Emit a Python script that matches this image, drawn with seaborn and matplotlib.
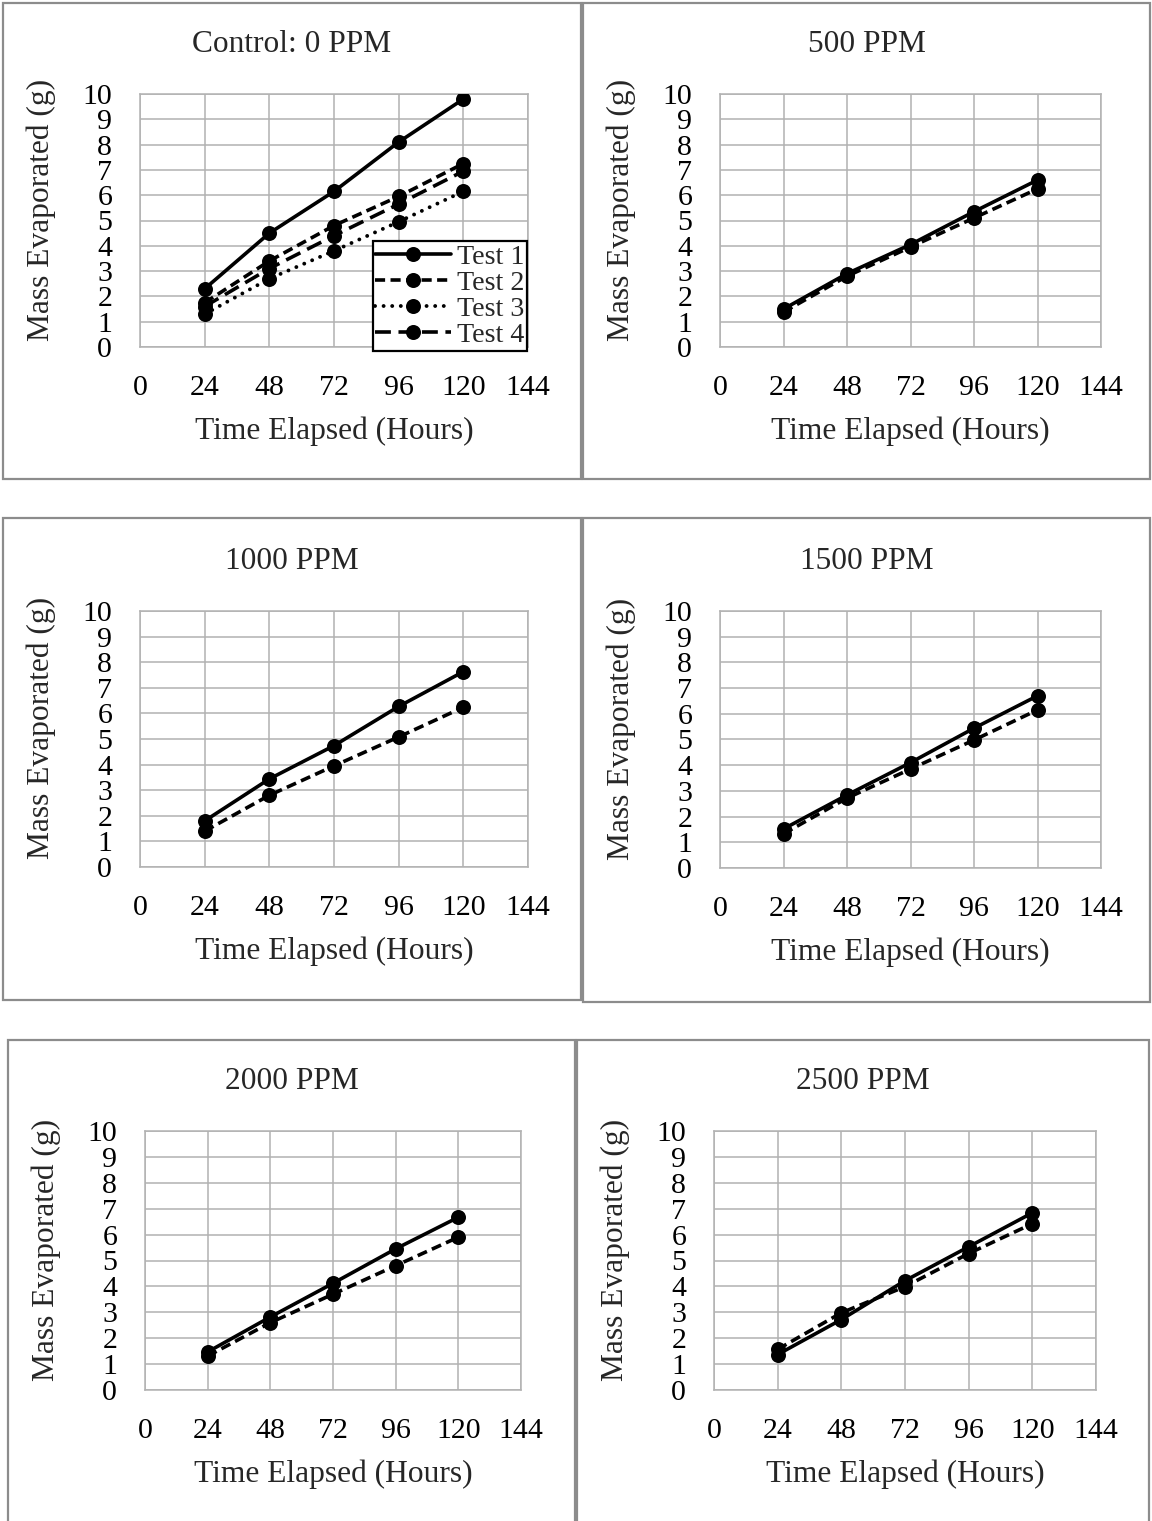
import matplotlib
matplotlib.use("Agg")
import matplotlib.pyplot as plt
from matplotlib.patches import Rectangle
import numpy as np
import pandas as pd
import seaborn as sns

# ---------------- data ----------------
hours = [24, 48, 72, 96, 120]
test_names = ["Test 1", "Test 2", "Test 3", "Test 4"]
panel_titles = ["Control: 0 PPM", "500 PPM", "1000 PPM", "1500 PPM", "2000 PPM", "2500 PPM"]
x_ticks = [0, 24, 48, 72, 96, 120, 144]
y_ticks = [0, 1, 2, 3, 4, 5, 6, 7, 8, 9, 10]
x_label = "Time Elapsed (Hours)"
y_label = "Mass Evaporated (g)"

control_test1 = [2.3, 4.5, 6.15, 8.1, 9.8]
control_test2 = [1.75, 3.4, 4.8, 5.95, 7.25]
control_test3 = [1.3, 2.7, 3.8, 4.95, 6.15]
control_test4 = [1.6, 3.1, 4.4, 5.65, 6.95]

ppm500_test1 = [1.5, 2.9, 4.05, 5.35, 6.6]
ppm500_test2 = [1.38, 2.8, 3.95, 5.1, 6.25]

ppm1000_test1 = [1.8, 3.44, 4.74, 6.27, 7.63]
ppm1000_test2 = [1.4, 2.8, 3.95, 5.08, 6.24]

ppm1500_test1 = [1.52, 2.84, 4.1, 5.44, 6.7]
ppm1500_test2 = [1.33, 2.72, 3.85, 4.98, 6.15]

ppm2000_test1 = [1.47, 2.82, 4.12, 5.45, 6.67]
ppm2000_test2 = [1.31, 2.6, 3.7, 4.8, 5.9]

ppm2500_test1 = [1.37, 2.72, 4.22, 5.53, 6.84]
ppm2500_test2 = [1.57, 2.98, 3.99, 5.27, 6.42]

panel_series = [
    [control_test1, control_test2, control_test3, control_test4],
    [ppm500_test1, ppm500_test2],
    [ppm1000_test1, ppm1000_test2],
    [ppm1500_test1, ppm1500_test2],
    [ppm2000_test1, ppm2000_test2],
    [ppm2500_test1, ppm2500_test2],
]

# ---------------- layout (pixels) ----------------
W, H = 1152, 1521
boxes = [(3, 3, 581, 479), (583, 3, 1150, 479),
         (3, 518, 581, 1000), (583, 518, 1150, 1002),
         (8, 1040, 575, 1535), (577, 1040, 1149, 1535)]
plots = [(140, 94, 528, 347), (720, 94, 1101, 347),
         (140, 611, 528, 867), (720, 611, 1101, 868),
         (145, 1131, 521, 1390), (714, 1131, 1096, 1390)]

sns.set_style("white")
plt.rcParams["font.family"] = ["Liberation Serif", "DejaVu Serif"]

TICK_FS = 21.5
LABEL_FS = 22.7
TITLE_FS = 22.6
LEG_FS = 20.2
GRID_C = "#b2b2b2"
BOX_C = "#8c8c8c"

dash_map = {"Test 1": "", "Test 2": (2.8, 1.5), "Test 3": (0.01, 2.2), "Test 4": (4.4, 2.1)}
marker_map = {n: "o" for n in test_names}

fig = plt.figure(figsize=(W / 100, H / 100), dpi=100)

for i in range(6):
    x0, y0, x1, y1 = boxes[i]
    fig.add_artist(Rectangle((x0 / W, 1 - y1 / H), (x1 - x0) / W, (y1 - y0) / H,
                             transform=fig.transFigure, fill=False,
                             edgecolor=BOX_C, linewidth=1.6, zorder=0))

    l, t, r, b = plots[i]
    ax = fig.add_axes([l / W, 1 - b / H, (r - l) / W, (b - t) / H])
    series = panel_series[i]
    names = test_names[:len(series)]
    df = pd.DataFrame({
        "Hours": hours * len(series),
        "Mass": [v for s in series for v in s],
        "Test": [n for n in names for _ in hours],
    })
    sns.lineplot(data=df, x="Hours", y="Mass", style="Test", style_order=names,
                 markers={n: marker_map[n] for n in names},
                 dashes={n: dash_map[n] for n in names},
                 color="black", estimator=None, legend=False,
                 linewidth=2.6, markersize=10.8, mec="black", mew=0,
                 ax=ax, zorder=3)
    for n, line in zip(names, ax.lines):
        if n == "Test 3":
            line.set_dash_capstyle("round")
            line.set_linewidth(2.8)

    ax.set_xlim(0, 144)
    ax.set_ylim(0, 10)
    ax.set_xticks(x_ticks)
    ax.set_yticks(y_ticks)
    ax.set_xticklabels([str(v) for v in x_ticks])
    ax.set_yticklabels([str(v) for v in y_ticks])
    ax.tick_params(axis="both", length=0, pad=20, labelsize=TICK_FS, colors="black")
    ax.grid(True, color=GRID_C, linewidth=1.1)
    ax.set_axisbelow(True)
    for sp in ax.spines.values():
        sp.set_color(GRID_C)
        sp.set_linewidth(1.1)
        sp.set_visible(True)

    ph = b - t
    pw = r - l
    ax.set_xlabel(x_label, fontsize=LABEL_FS)
    ax.xaxis.label.set_va("baseline")
    ax.xaxis.set_label_coords(0.5, -92 / ph)
    ax.set_ylabel(y_label, fontsize=LABEL_FS)
    ax.yaxis.label.set_va("baseline")
    ax.yaxis.label.set_ha("center")
    ax.yaxis.set_label_coords(-91 / pw, 0.5 + 11 / ph)

    cx = (x0 + x1) / 2
    fig.text(cx / W, 1 - (t - 42) / H, panel_titles[i], ha="center", va="baseline",
             fontsize=TITLE_FS)

    if i == 0:
        leg = ax.legend(ax.lines[:4], names, loc="lower right",
                        bbox_to_anchor=(527 / W, 1 - 351 / H),
                        bbox_transform=fig.transFigure, borderaxespad=0,
                        fontsize=LEG_FS, frameon=True, fancybox=False,
                        framealpha=1, edgecolor="black", handlelength=2.7,
                        handletextpad=0.2, borderpad=0.1, labelspacing=0.02)
        leg.get_frame().set_linewidth(1.6)
        leg.set_zorder(5)

fig.savefig("out.png", dpi=100)
